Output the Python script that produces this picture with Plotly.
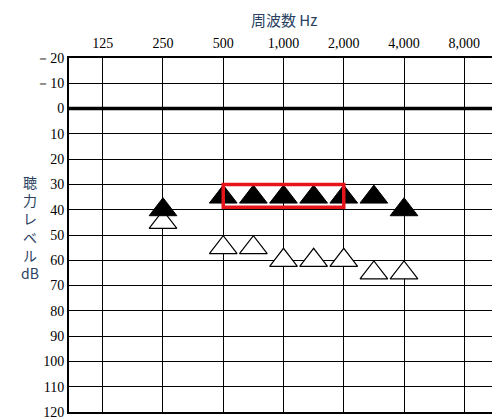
import plotly.graph_objects as go

freq_labels = ['125', '250', '500', '1,000', '2,000', '4,000', '8,000']
freq_pos = [0, 1, 2, 3, 4, 5, 6]
db_ticks = list(range(-20, 121, 10))
db_labels = ['－20' if v == -20 else '－10' if v == -10 else str(v) for v in db_ticks]

# positions on the chart grid: 250=1, 500=2, 750=2.5, 1000=3, 1500=3.5, 2000=4, 3000=4.5, 4000=5
meas_pos = [1, 2, 2.5, 3, 3.5, 4, 4.5, 5]
black_db = [40, 35, 35, 35, 35, 35, 35, 40]
white_db = [45, 55, 55, 60, 60, 60, 65, 65]

fig = go.Figure()
fig.add_trace(go.Scatter(x=meas_pos, y=white_db, mode='markers',
                         marker=dict(symbol='triangle-up', size=24, color='white',
                                     line=dict(color='black', width=1.2))))
fig.add_trace(go.Scatter(x=meas_pos, y=black_db, mode='markers',
                         marker=dict(symbol='triangle-up', size=24, color='black',
                                     line=dict(color='black', width=1))))

fig.add_shape(type='line', x0=-0.56, x1=6.56, y0=0, y1=0,
              line=dict(color='black', width=3.5))
fig.add_shape(type='rect', x0=2, x1=4, y0=30, y1=39,
              line=dict(color='#e8141b', width=3.5))

fig.add_annotation(text='周波数 Hz', x=0.5, y=1.0, xref='paper', yref='paper',
                   yanchor='bottom', yshift=26, showarrow=False,
                   font=dict(size=15, family='Noto Sans CJK JP'))
fig.add_annotation(text='聴<br>力<br>レ<br>ベ<br>ル<br>dB', x=0, y=0.52, xref='paper', yref='paper',
                   xshift=-50, showarrow=False, font=dict(size=14, family='Noto Sans CJK JP'))

fig.update_xaxes(range=[-0.56, 6.56], side='top', tickvals=freq_pos, ticktext=freq_labels,
                 showgrid=True, gridcolor='black', gridwidth=1, zeroline=False,
                 showline=True, linecolor='black', linewidth=2, mirror=True, ticks='',
                 ticklabelstandoff=2,
                 tickfont=dict(size=14, family='Liberation Serif', color='black'))
fig.update_yaxes(range=[120, -20], tickvals=db_ticks, ticktext=db_labels,
                 showgrid=True, gridcolor='black', gridwidth=1, zeroline=False,
                 showline=True, linecolor='black', linewidth=2, mirror=True, ticks='',
                 tickfont=dict(size=14, family='Liberation Serif', color='black'))

fig.update_layout(width=500, height=420, margin=dict(l=61, r=8, t=50, b=12),
                  showlegend=False, plot_bgcolor='white', paper_bgcolor='white')
fig.write_html('out.html')
